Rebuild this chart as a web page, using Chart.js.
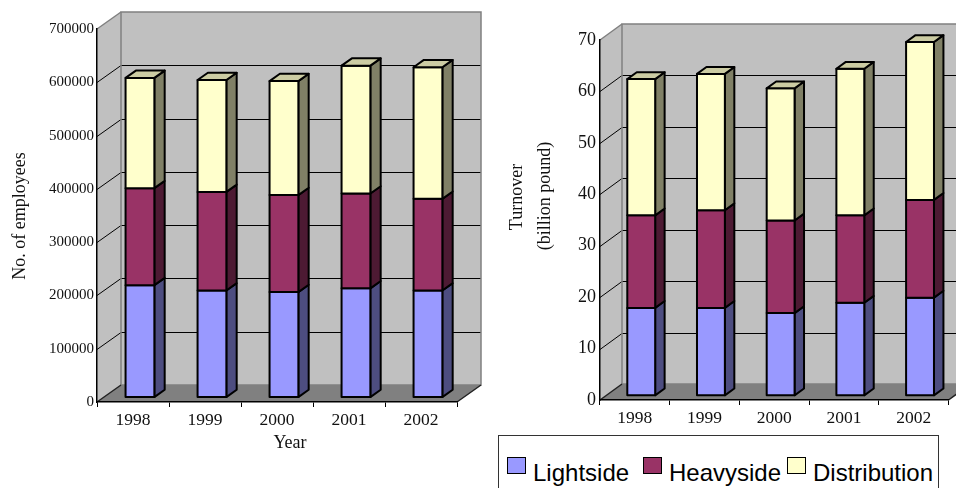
<!DOCTYPE html>
<html>
<head>
<meta charset="utf-8">
<script src="https://cdn.jsdelivr.net/npm/chart.js@4.4.1/dist/chart.umd.min.js"></script>
<style>
  html, body { margin: 0; padding: 0; background: #fff; }
  body { width: 956px; height: 488px; position: relative; overflow: hidden; }
  canvas { position: absolute; top: 0; }
  #grafico_empleados { left: 0; }
  #grafico_ventas { left: 490px; }
  #leyenda {
    position: absolute; left: 498px; top: 435px; width: 439px; height: 70px;
    border: 1px solid #333; background: #fff;
    font-family: "Liberation Sans", Arial, sans-serif; font-size: 24px; line-height: 24px; color: #000;
  }
  .item { position: absolute; top: 0; white-space: nowrap; }
  .cuadro { position: absolute; top: 21px; left: 0; width: 19px; height: 17px; box-sizing: border-box; border: 1.5px solid #000; }
  .texto { position: absolute; left: 26px; top: 25px; }
</style>
</head>
<body>
<canvas id="grafico_empleados" width="490" height="488"></canvas>
<canvas id="grafico_ventas" width="466" height="488"></canvas>
<div id="leyenda"></div>

<script>
// años y series
const ANIOS = ['1998', '1999', '2000', '2001', '2002'];
const SERIES = ['Lightside', 'Heavyside', 'Distribution'];

// numero de empleados
const EMP_LIGHT = [210000, 200000, 197000, 204000, 200000];
const EMP_HEAVY = [182000, 185000, 182000, 178000, 172000];
const EMP_DIST = [207000, 210000, 214000, 240000, 247000];
const EMP_MAX = 700000;
const EMP_PASO = 100000;

// facturacion (billones de libras)
const FAC_LIGHT = [17, 17, 16, 18, 19];
const FAC_HEAVY = [18, 19, 18, 17, 19];
const FAC_DIST = [26.5, 26.5, 25.7, 28.5, 30.7];
const FAC_MAX = 70;
const FAC_PASO = 10;

// colores de cada cara de la columna
const COL_FRENTE = ['#9999FF', '#993366', '#FFFFCC'];
const COL_LADO = ['#4D4D80', '#4D1A33', '#808066'];
const COL_TECHO = ['#7A7ACC', '#7A2952', '#CCCCA3'];

const SERIF = '"Liberation Serif", "Times New Roman", serif';
//------------------------------------//

/*********-poligono relleno con borde-*********/
function poligono(ctx, puntos, relleno, borde, grosor) {
  ctx.beginPath();
  ctx.moveTo(puntos[0][0], puntos[0][1]);
  for (let i = 1; i < puntos.length; i++) ctx.lineTo(puntos[i][0], puntos[i][1]);
  ctx.closePath();
  if (relleno) { ctx.fillStyle = relleno; ctx.fill(); }
  if (borde) { ctx.strokeStyle = borde; ctx.lineWidth = grosor; ctx.stroke(); }
}

/*********-paredes, suelo y columnas en 3D-*********/
const caja3d = {
  id: 'caja3d',
  beforeDraw(chart, args, o) {
    const ctx = chart.ctx;
    const a = chart.chartArea;
    const y = chart.scales.y;
    const dx = o.dx, dy = o.dy;
    ctx.save();
    // pared izquierda
    poligono(ctx, [[a.left, a.top], [a.left + dx, a.top + dy], [a.left + dx, a.bottom + dy], [a.left, a.bottom]], '#C0C0C0');
    // pared del fondo
    ctx.fillStyle = '#C0C0C0';
    ctx.fillRect(a.left + dx, a.top + dy, a.right - a.left, a.bottom - a.top);
    // suelo
    poligono(ctx, [[a.left, a.bottom], [a.right, a.bottom], [a.right + dx, a.bottom + dy], [a.left + dx, a.bottom + dy]], '#808080');
    // lineas de la grilla
    ctx.strokeStyle = '#000';
    ctx.lineWidth = 1;
    y.ticks.forEach(t => {
      if (t.value <= y.min || t.value >= y.max) return;
      const py = Math.round(y.getPixelForValue(t.value)) + 0.5;
      ctx.beginPath();
      ctx.moveTo(a.left, py);
      ctx.lineTo(a.left + dx, py + dy);
      ctx.lineTo(a.right + dx, py + dy);
      ctx.stroke();
    });
    // bordes de las paredes
    ctx.strokeStyle = '#808080';
    ctx.lineWidth = 1.5;
    ctx.strokeRect(a.left + dx, a.top + dy, a.right - a.left, a.bottom - a.top);
    ctx.beginPath();
    ctx.moveTo(a.left, a.top);
    ctx.lineTo(a.left + dx, a.top + dy);
    ctx.stroke();
    // bordes del suelo
    ctx.strokeStyle = '#222';
    ctx.beginPath();
    ctx.moveTo(a.left, a.bottom);
    ctx.lineTo(a.left + dx, a.bottom + dy);
    ctx.moveTo(a.right, a.bottom);
    ctx.lineTo(a.right + dx, a.bottom + dy);
    ctx.stroke();
    ctx.restore();
  },
  beforeDatasetsDraw(chart, args, o) {
    const ctx = chart.ctx;
    const nSeries = chart.data.datasets.length;
    const ox = o.dx * o.frente, oy = o.dy * o.frente;
    const px = o.dx * o.fondo, py = o.dy * o.fondo;
    ctx.save();
    ctx.lineJoin = 'round';
    for (let i = 0; i < chart.data.labels.length; i++) {
      for (let d = 0; d < nSeries; d++) {
        const barra = chart.getDatasetMeta(d).data[i];
        const p = barra.getProps(['x', 'y', 'base', 'width'], true);
        const x0 = p.x - p.width / 2 + ox, x1 = p.x + p.width / 2 + ox;
        const yt = p.y + oy, yb = p.base + oy;
        // lado derecho
        poligono(ctx, [[x1, yb], [x1 + px, yb + py], [x1 + px, yt + py], [x1, yt]], COL_LADO[d], '#000', 2);
        // frente
        poligono(ctx, [[x0, yb], [x1, yb], [x1, yt], [x0, yt]], COL_FRENTE[d], '#000', 2);
        // techo solo en la ultima serie
        if (d === nSeries - 1) {
          poligono(ctx, [[x0, yt], [x1, yt], [x1 + px, yt + py], [x0 + px, yt + py]], COL_TECHO[d], '#000', 2);
        }
      }
    }
    ctx.restore();
    return false;
  }
};

/*********-titulos de los ejes-*********/
const rotulos = {
  id: 'rotulos',
  afterDraw(chart, args, o) {
    const ctx = chart.ctx;
    o.items.forEach(r => {
      ctx.save();
      ctx.translate(r.x, r.y);
      ctx.rotate(r.giro || 0);
      ctx.font = r.fuente;
      ctx.fillStyle = '#111';
      ctx.textAlign = 'center';
      ctx.textBaseline = 'middle';
      ctx.fillText(r.texto, 0, 0);
      ctx.restore();
    });
  }
};
//------------------------------------//

function hacerGrafico(id, valores, max, paso, g) {
  const datasets = SERIES.map((nombre, i) => ({
    label: nombre,
    data: valores[i],
    backgroundColor: COL_FRENTE[i],
    barPercentage: 0.4,
    categoryPercentage: 1
  }));
  return new Chart(document.getElementById(id).getContext('2d'), {
    type: 'bar',
    data: { labels: ANIOS, datasets: datasets },
    options: {
      responsive: false,
      animation: false,
      devicePixelRatio: 1,
      layout: { padding: { left: 0, top: g.arriba, right: g.derecha, bottom: 0 } },
      plugins: {
        legend: { display: false },
        tooltip: { enabled: false },
        caja3d: { dx: g.dx, dy: g.dy, frente: 0.29, fondo: 0.43 },
        rotulos: { items: g.rotulos }
      },
      scales: {
        x: {
          stacked: true,
          afterFit: s => { s.height = g.altoX; },
          grid: { drawOnChartArea: false, color: '#000', tickLength: 5, offset: true },
          border: { color: '#000', width: 1.5 },
          ticks: { color: '#111', padding: 3, font: { family: SERIF, size: 17.5 } }
        },
        y: {
          stacked: true,
          min: 0,
          max: max,
          afterFit: s => { s.width = g.anchoY; },
          grid: { display: false, drawTicks: false },
          border: { display: true, color: '#000', width: 1.5 },
          ticks: {
            stepSize: paso,
            color: '#111',
            padding: g.sepY,
            font: { family: SERIF, size: g.fuenteY },
            callback: v => String(v)
          }
        }
      }
    },
    plugins: [caja3d, rotulos]
  });
}

// grafico de EMPLEADOS
hacerGrafico('grafico_empleados', [EMP_LIGHT, EMP_HEAVY, EMP_DIST], EMP_MAX, EMP_PASO, {
  arriba: 29, derecha: 33, altoX: 86, anchoY: 97, sepY: 3, fuenteY: 15,
  dx: 24, dy: -17,
  rotulos: [
    { texto: 'No. of employees', x: 20, y: 216, giro: -Math.PI / 2, fuente: '18px ' + SERIF },
    { texto: 'Year', x: 290, y: 443, fuente: '18px ' + SERIF }
  ]
});

// grafico de FACTURACION
hacerGrafico('grafico_ventas', [FAC_LIGHT, FAC_HEAVY, FAC_DIST], FAC_MAX, FAC_PASO, {
  arriba: 40, derecha: 7.5, altoX: 88, anchoY: 110, sepY: 4, fuenteY: 18,
  dx: 22, dy: -16,
  rotulos: [
    { texto: 'Turnover', x: 27, y: 197, giro: -Math.PI / 2, fuente: '18px ' + SERIF },
    { texto: '(billion pound)', x: 55, y: 196, giro: -Math.PI / 2, fuente: '18px ' + SERIF }
  ]
});

/*********-leyenda-*********/
const LEYENDA = document.getElementById('leyenda');
const POS_LEYENDA = [8, 144, 288];
SERIES.forEach((nombre, i) => {
  const item = document.createElement('div');
  item.className = 'item';
  item.style.left = POS_LEYENDA[i] + 'px';
  const cuadro = document.createElement('span');
  cuadro.className = 'cuadro';
  cuadro.style.backgroundColor = COL_FRENTE[i];
  const texto = document.createElement('span');
  texto.className = 'texto';
  texto.innerText = nombre;
  item.appendChild(cuadro);
  item.appendChild(texto);
  LEYENDA.appendChild(item);
});
//------------------------------------//
</script>
</body>
</html>
